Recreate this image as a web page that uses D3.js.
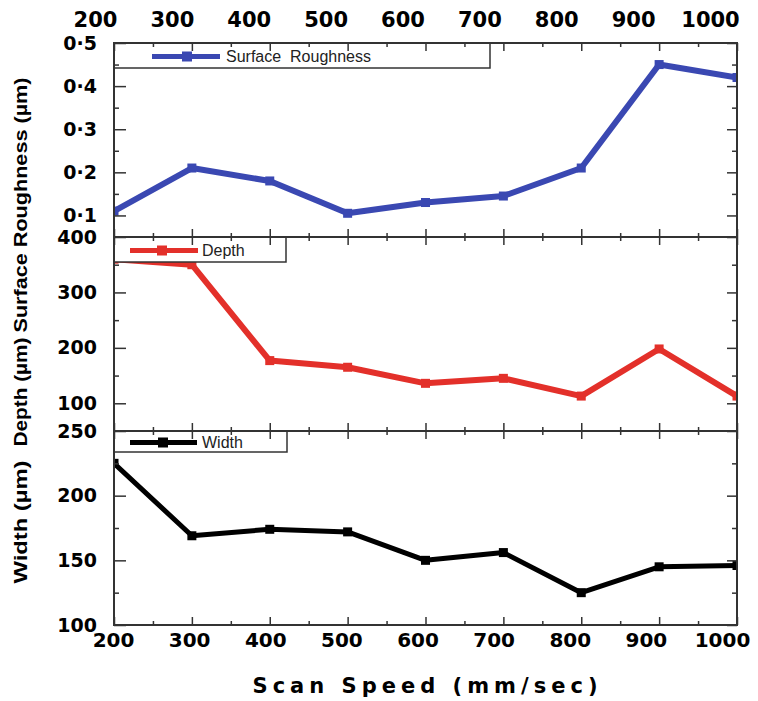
<!DOCTYPE html>
<html>
<head>
<meta charset="utf-8">
<script src="https://cdn.jsdelivr.net/npm/d3@7"></script>
<style>
  body { margin: 0; background: #fff; }
  .tick text { font-family: "DejaVu Sans", sans-serif; font-weight: bold; fill: #000; }
</style>
</head>
<body>
<svg id="chart" width="758" height="701"></svg>
<script>
// scan speed (mm/sec)
const speeds = [200, 300, 400, 500, 600, 700, 800, 900, 1000];
// series
const roughness = [0.11, 0.21, 0.18, 0.105, 0.13, 0.145, 0.21, 0.45, 0.42];
const depth = [360, 350, 177, 165, 136, 145, 113, 198, 113];
const widthVals = [225, 169, 174, 172, 150, 156, 125, 145, 146];

// tick values
const xMajor = [200, 300, 400, 500, 600, 700, 800, 900, 1000];
const xMinor = [250, 350, 450, 550, 650, 750, 850, 950];
const roughMajor = [0.1, 0.2, 0.3, 0.4, 0.5];
const roughMinor = [0.15, 0.25, 0.35, 0.45];
const depthMajor = [100, 200, 300, 400];
const depthMinor = [150, 250, 350];
const widthMajor = [100, 150, 200, 250];
const widthMinor = [125, 175, 225];

const left = 114, right = 737;
const svg = d3.select('#chart');

let x = d3.scaleLinear().domain([200, 1000]).range([left, right]);
// the tick labels in the figure sit a little left of their ticks
let xTopLabels = d3.scaleLinear().domain([200, 1000]).range([95, 710]);
let xBottomLabels = d3.scaleLinear().domain([200, 1000]).range([113, 722]);

const panels = [
  { id: 'rough', label: 'Surface  Roughness', values: roughness, color: '#3a48b2', lw: 6, ms: 9,
    domain: [0.05, 0.5], top: 43, bottom: 237, major: roughMajor, minor: roughMinor,
    fmt: d => d3.format('.1f')(d).replace('.', '·'),
    legend: { w: 376, h: 25, x1: 152, x2: 220, mx: 187, tx: 226 },
    title: 'Surface Roughness (µm)', titleY: 205, titleLen: 255 },
  { id: 'depth', label: 'Depth', values: depth, color: '#e3302a', lw: 6, ms: 9,
    domain: [50, 400], top: 237, bottom: 431, major: depthMajor, minor: depthMinor,
    fmt: d3.format('d'),
    legend: { w: 172, h: 25, x1: 130, x2: 198, mx: 162, tx: 202 },
    title: 'Depth (µm)', titleY: 392, titleLen: 109 },
  { id: 'width', label: 'Width', values: widthVals, color: '#000', lw: 5, ms: 9,
    domain: [100, 250], top: 431, bottom: 625, major: widthMajor, minor: widthMinor,
    fmt: d3.format('d'),
    legend: { w: 173, h: 21, x1: 130, x2: 197, mx: 163, tx: 202 },
    title: 'Width (µm)', titleY: 522, titleLen: 123 }
];

panels.forEach(function(p, i) {
  let y = d3.scaleLinear().domain(p.domain).range([p.bottom, p.top]);
  let g = svg.append('g').attr('id', p.id);

  g.append('clipPath').attr('id', 'clip-' + p.id)
    .append('rect')
    .attr('x', left).attr('y', p.top)
    .attr('width', right - left).attr('height', p.bottom - p.top);

  // data line + square markers
  let line = d3.line().x((d, j) => x(speeds[j])).y(d => y(d));
  let plot = g.append('g').attr('clip-path', 'url(#clip-' + p.id + ')');
  plot.append('path')
    .datum(p.values)
    .attr('d', line)
    .attr('fill', 'none')
    .attr('stroke', p.color)
    .attr('stroke-width', p.lw)
    .attr('stroke-linejoin', 'round');
  plot.selectAll('rect.marker')
    .data(p.values)
    .enter()
    .append('rect')
    .attr('class', 'marker')
    .attr('x', (d, j) => x(speeds[j]) - p.ms / 2)
    .attr('y', d => y(d) - p.ms / 2)
    .attr('width', p.ms).attr('height', p.ms)
    .attr('fill', p.color);

  // legend box
  let lg = g.append('g');
  lg.append('rect')
    .attr('x', left).attr('y', p.top)
    .attr('width', p.legend.w).attr('height', p.legend.h)
    .attr('fill', '#fff').attr('stroke', '#333').attr('stroke-width', 1.5);
  let ly = p.top + p.legend.h / 2 + 1;
  lg.append('line')
    .attr('x1', p.legend.x1).attr('x2', p.legend.x2)
    .attr('y1', ly).attr('y2', ly)
    .attr('stroke', p.color).attr('stroke-width', 5);
  lg.append('rect')
    .attr('x', p.legend.mx - 5).attr('y', ly - 5)
    .attr('width', 10).attr('height', 10)
    .attr('fill', p.color);
  lg.append('text')
    .attr('x', p.legend.tx).attr('y', ly)
    .attr('dy', '0.35em')
    .style('font-family', '"Liberation Sans", Arial, sans-serif')
    .style('font-size', '16px')
    .style('white-space', 'pre')
    .attr('fill', '#222')
    .text(p.label);

  // y axes: labels on left, ticks inward on both sides
  g.append('g')
    .attr('transform', 'translate(' + left + ',0)')
    .call(d3.axisLeft(y).tickValues(p.minor).tickSize(-5).tickFormat(''))
    .call(a => a.select('.domain').remove());
  let yl = g.append('g')
    .attr('transform', 'translate(' + left + ',0)')
    .call(d3.axisLeft(y).tickValues(p.major).tickSize(-12).tickPadding(17).tickFormat(p.fmt));
  yl.select('.domain').remove();
  yl.selectAll('text').style('font-size', '19px');
  yl.selectAll('line').attr('stroke', '#333').attr('stroke-width', 1.5);

  g.append('g')
    .attr('transform', 'translate(' + right + ',0)')
    .call(d3.axisRight(y).tickValues(p.minor).tickSize(-5).tickFormat(''))
    .call(a => a.select('.domain').remove());
  g.append('g')
    .attr('transform', 'translate(' + right + ',0)')
    .call(d3.axisRight(y).tickValues(p.major).tickSize(-10).tickFormat(''))
    .call(a => a.select('.domain').remove());

  // x ticks inward at top and bottom of each panel
  [[d3.axisBottom, p.bottom], [d3.axisTop, p.top]].forEach(function(s) {
    g.append('g')
      .attr('transform', 'translate(0,' + s[1] + ')')
      .call(s[0](x).tickValues(xMinor).tickSize(-4).tickFormat(''))
      .call(a => a.select('.domain').remove());
    g.append('g')
      .attr('transform', 'translate(0,' + s[1] + ')')
      .call(s[0](x).tickValues(xMajor).tickSize(-8).tickFormat(''))
      .call(a => a.select('.domain').remove());
  });
  g.selectAll('.tick line').attr('stroke', '#333').attr('stroke-width', 1.5);

  // frame
  g.append('rect')
    .attr('x', left).attr('y', p.top)
    .attr('width', right - left).attr('height', p.bottom - p.top)
    .attr('fill', 'none').attr('stroke', '#333').attr('stroke-width', 2);

  // rotated title
  svg.append('text')
    .attr('transform', 'translate(27,' + p.titleY + ') rotate(-90)')
    .attr('text-anchor', 'middle')
    .attr('textLength', p.titleLen)
    .attr('lengthAdjust', 'spacingAndGlyphs')
    .style('font-family', '"Liberation Sans", Arial, sans-serif')
    .style('font-weight', 'bold')
    .style('font-size', '19px')
    .text(p.title);
});

// bottom tick labels
let xb = svg.append('g')
  .attr('transform', 'translate(0,625)')
  .call(d3.axisBottom(xBottomLabels).tickValues(xMajor).tickSize(0).tickPadding(8).tickFormat(d3.format('d')));
xb.select('.domain').remove();
xb.selectAll('text').style('font-size', '20px');

// top tick labels
let xt = svg.append('g')
  .attr('transform', 'translate(0,27)')
  .call(d3.axisTop(xTopLabels).tickValues(xMajor).tickSize(0).tickPadding(0).tickFormat(d3.format('d')));
xt.select('.domain').remove();
xt.selectAll('text').style('font-size', '21px');

// x title
svg.append('text')
  .attr('x', 425).attr('y', 693)
  .attr('text-anchor', 'middle')
  .attr('textLength', 345)
  .attr('lengthAdjust', 'spacing')
  .style('font-family', '"DejaVu Sans", sans-serif')
  .style('font-weight', 'bold')
  .style('font-size', '21px')
  .text('Scan Speed (mm/sec)');
</script>
</body>
</html>
